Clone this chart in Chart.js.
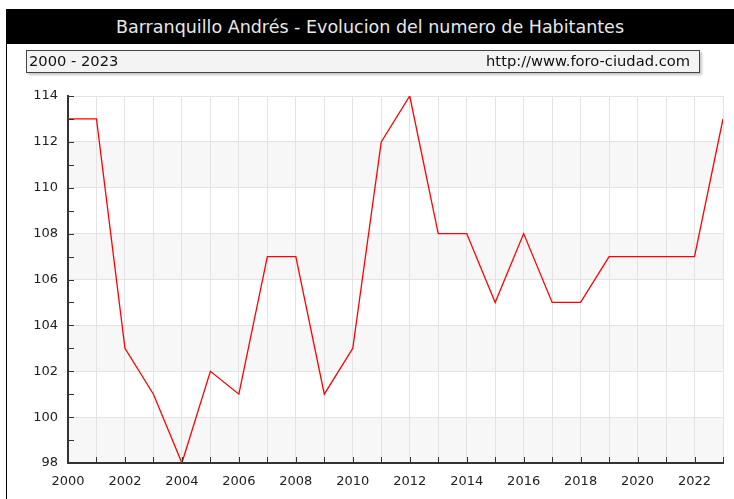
<!DOCTYPE html>
<html><head><meta charset="utf-8">
<script src="https://cdn.jsdelivr.net/npm/chart.js@4"></script>
<style>
html,body{margin:0;padding:0;background:#fff;width:734px;height:499px;overflow:hidden;}
#wrap{position:relative;width:734px;height:499px;}
canvas{position:absolute;left:0;top:0;}
#frame{position:absolute;left:6px;top:9px;width:1px;height:490px;background:#000;z-index:2;}
#title{position:absolute;left:6px;top:9px;width:728px;height:35px;background:#000;color:#e8e8e8;font:17.5px 'DejaVu Sans',sans-serif;text-align:center;line-height:36px;z-index:2;white-space:nowrap;}
#box{position:absolute;left:26px;top:50px;width:672px;height:21px;border:1px solid #444;background:#f3f3f3;box-shadow:2px 2px 2px #c8c8c8;font:14.7px 'DejaVu Sans',sans-serif;color:#111;z-index:2;}
#box .l{position:absolute;left:2px;top:1px;}
#box .r{position:absolute;right:9px;top:1px;}
</style></head>
<body><div id="wrap">
<canvas id="c" width="734" height="499"></canvas>
<div id="frame"></div>
<div id="title">Barranquillo Andrés - Evolucion del numero de Habitantes</div>
<div id="box"><span class="l">2000 - 2023</span><span class="r">http://www.foro-ciudad.com</span></div>
</div>
<script>
const years = [2000,2001,2002,2003,2004,2005,2006,2007,2008,2009,2010,2011,2012,2013,2014,2015,2016,2017,2018,2019,2020,2021,2022,2023];
const population = [113,113,103,101,98,102,101,107,107,101,103,112,114,108,108,105,108,105,105,107,107,107,107,113];
const yMin = 98, yMax = 114, yStep = 2;
const xMin = 2000, xMax = 2023;

const FONT = "'DejaVu Sans',sans-serif";

const bandsPlugin = {
  id: 'bands',
  beforeDraw(chart) {
    const {ctx, chartArea: a, scales: {y}} = chart;
    ctx.save();
    ctx.fillStyle = '#f7f7f7';
    for (let v = yMin; v < yMax; v += 2 * yStep) {
      const top = y.getPixelForValue(v + yStep), bot = y.getPixelForValue(v);
      ctx.fillRect(a.left, top, a.right - a.left, bot - top);
    }
    ctx.restore();
  }
};
const ticksPlugin = {
  id: 'inticks',
  afterDatasetsDraw(chart) {
    const {ctx, chartArea: a, scales: {x, y}} = chart;
    ctx.save();
    ctx.strokeStyle = '#333';
    ctx.lineWidth = 1;
    ctx.beginPath();
    for (let v = xMin; v <= xMax; v++) {
      const px = Math.round(x.getPixelForValue(v)) + 0.5;
      ctx.moveTo(px, a.bottom); ctx.lineTo(px, a.bottom - 6);
    }
    for (let v = yMin; v <= yMax; v++) {
      const py = Math.round(y.getPixelForValue(v)) + 0.5;
      ctx.moveTo(a.left, py); ctx.lineTo(a.left + 6, py);
    }
    ctx.stroke();
    ctx.restore();
  }
};

new Chart(document.getElementById('c'), {
  type: 'line',
  data: {
    datasets: [{
      data: years.map((yr, i) => ({x: yr, y: population[i]})),
      borderColor: '#ff0000',
      borderWidth: 1.3,
      pointRadius: 0,
      tension: 0,
      fill: false
    }]
  },
  options: {
    responsive: false,
    devicePixelRatio: 1,
    animation: false,
    layout: {padding: {top: 96, right: 11, left: 0, bottom: 0}},
    plugins: {legend: {display: false}, tooltip: {enabled: false}},
    scales: {
      x: {
        type: 'linear', min: xMin, max: xMax,
        afterFit(s) { s.height = 36; },
        grid: {color: '#e3e3e3', lineWidth: 1, drawTicks: false},
        border: {color: '#333', width: 2},
        ticks: {stepSize: 1, autoSkip: false, maxRotation: 0, padding: 11,
          color: '#222', font: {family: FONT, size: 13},
          callback: v => (v % 2 === 0 ? String(v) : '')}
      },
      y: {
        min: yMin, max: yMax,
        afterFit(s) { s.width = 68; },
        grid: {color: '#e3e3e3', lineWidth: 1, drawTicks: false},
        border: {color: '#333', width: 2},
        ticks: {stepSize: yStep, padding: 10, color: '#222', font: {family: FONT, size: 13}}
      }
    }
  },
  plugins: [bandsPlugin, ticksPlugin]
});
</script>
</body></html>
